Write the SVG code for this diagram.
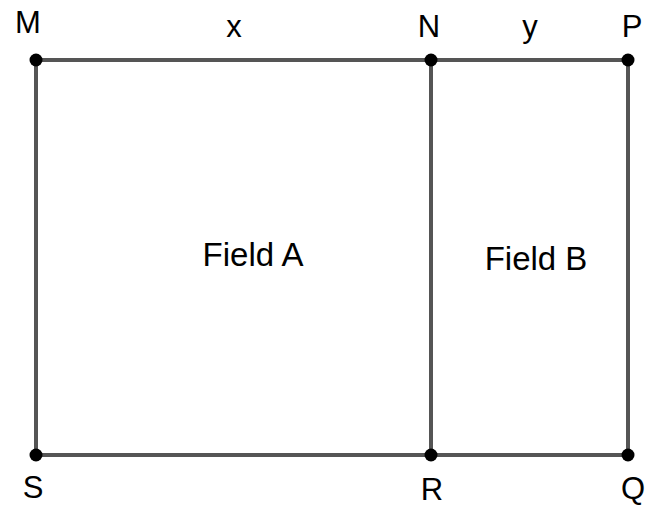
<svg xmlns="http://www.w3.org/2000/svg" width="646" height="506" viewBox="0 0 646 506">
<style>
.ln{stroke:#555;stroke-width:4;fill:none;stroke-linecap:butt}
.pt{fill:#000}
text{font-family:"Liberation Sans",Arial,sans-serif;font-size:33px;fill:#000;text-anchor:middle}
.sm{font-size:31px}
</style>
<rect width="646" height="506" fill="#fff"/>
<g id="connectors">
<line class="ln" x1="36" y1="60" x2="628" y2="60"/>
<line class="ln" x1="36" y1="455" x2="628" y2="455"/>
<line class="ln" x1="36" y1="60" x2="36" y2="455"/>
<line class="ln" x1="431" y1="60" x2="431" y2="455"/>
<line class="ln" x1="628" y1="60" x2="628" y2="455"/>
</g>
<g id="M"><circle class="pt" cx="36" cy="60" r="6.5"/><text class="sm" x="28" y="33">M</text></g>
<g id="N"><circle class="pt" cx="431" cy="60" r="6.5"/><text class="sm" x="429" y="37">N</text></g>
<g id="P"><circle class="pt" cx="628" cy="60" r="6.5"/><text class="sm" x="632" y="37">P</text></g>
<g id="S"><circle class="pt" cx="36" cy="455" r="6.5"/><text class="sm" x="33" y="498">S</text></g>
<g id="R"><circle class="pt" cx="431" cy="455" r="6.5"/><text class="sm" x="432" y="500">R</text></g>
<g id="Q"><circle class="pt" cx="628" cy="455" r="6.5"/><text class="sm" x="633" y="499">Q</text></g>
<g id="labels">
<text class="sm" x="234" y="37">x</text>
<text class="sm" x="530" y="37">y</text>
<text x="253" y="266">Field A</text>
<text x="536" y="270">Field B</text>
</g>
</svg>
